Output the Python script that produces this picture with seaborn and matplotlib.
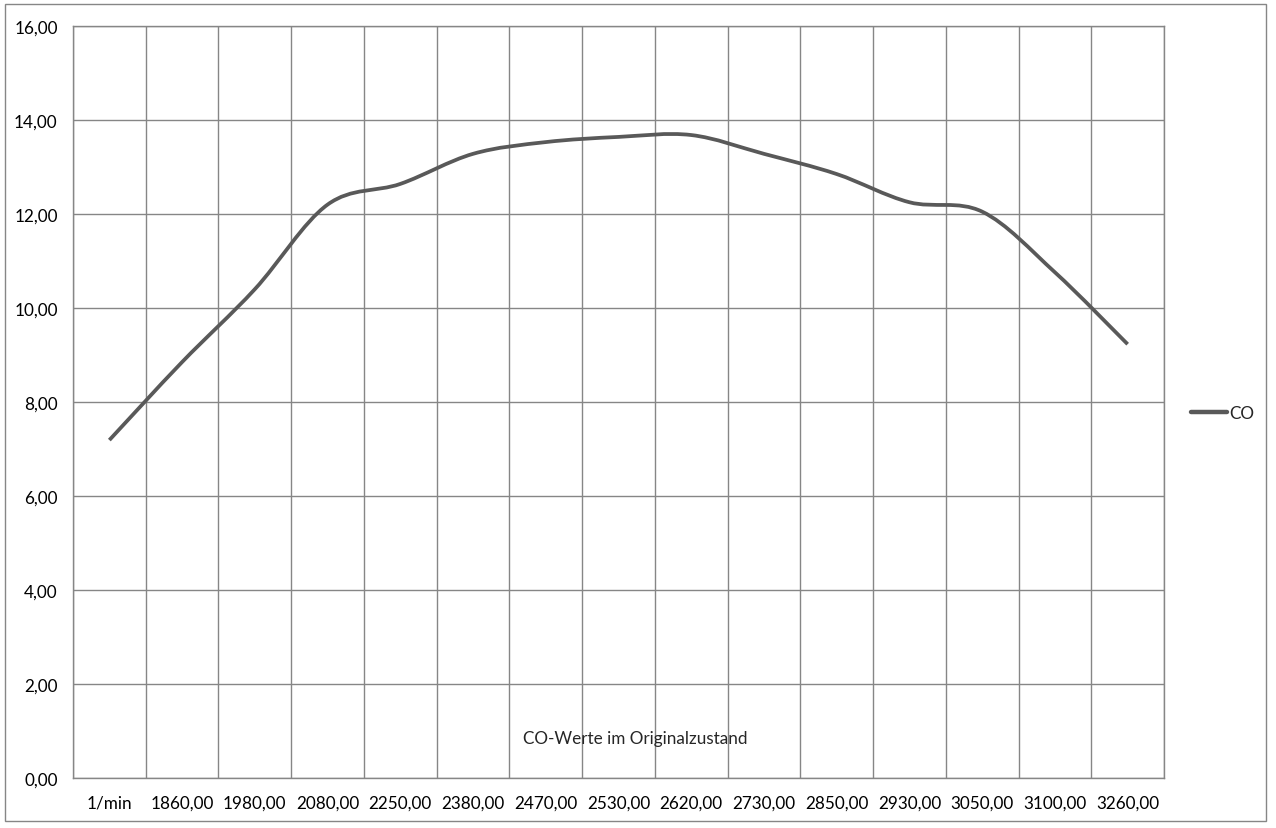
import matplotlib
matplotlib.use("Agg")
import matplotlib.pyplot as plt
from matplotlib.path import Path
from matplotlib.patches import PathPatch, Rectangle
from matplotlib.lines import Line2D
from matplotlib.ticker import FixedLocator, FuncFormatter
import numpy as np
import pandas as pd
import seaborn as sns

# CO values
categories = ["1/min", "1860,00", "1980,00", "2080,00", "2250,00", "2380,00",
              "2470,00", "2530,00", "2620,00", "2730,00", "2850,00", "2930,00",
              "3050,00", "3100,00", "3260,00"]
co_values = [7.19, 8.85, 10.40, 12.20, 12.64, 13.28, 13.53, 13.64,
             13.68, 13.28, 12.85, 12.25, 12.05, 10.76, 9.23]
y_ticks = [0, 2, 4, 6, 8, 10, 12, 14, 16]
title = "CO-Werte im Originalzustand"
series_name = "CO"

sns.set_style("white")
plt.rcParams["font.family"] = ["Lato", "DejaVu Sans"]

grid_col = "#868686"
line_col = "#595959"
fs = 12.3

W, H = 1276, 829
fig = plt.figure(figsize=(W / 100, H / 100), dpi=100)
ax = fig.add_axes([73 / W, 1 - 779 / H, (1164 - 73) / W, (779 - 27) / H])

df = pd.DataFrame({"pos": np.arange(len(categories)), "co": co_values})
sns.lineplot(data=df, x="pos", y="co", ax=ax, linewidth=0, legend=False)

# smoothed line like Excel (Catmull-Rom as cubic Bezier segments)
pts = df[["pos", "co"]].to_numpy(dtype=float)
ext = np.vstack([pts[0], pts, pts[-1]])
verts = [tuple(pts[0])]
codes = [Path.MOVETO]
for i in range(1, len(ext) - 2):
    p0, p1, p2, p3 = ext[i - 1], ext[i], ext[i + 1], ext[i + 2]
    c1 = p1 + (p2 - p0) / 6
    c2 = p2 - (p3 - p1) / 6
    verts += [tuple(c1), tuple(c2), tuple(p2)]
    codes += [Path.CURVE4] * 3
ax.add_patch(PathPatch(Path(verts, codes), fill=False, edgecolor=line_col,
                       linewidth=2.7, capstyle="butt", zorder=3))

ax.set_xlim(-0.5, len(categories) - 0.5)
ax.set_ylim(0, 16)
ax.set_xlabel("")
ax.set_ylabel("")

ax.xaxis.set_major_locator(FixedLocator(range(len(categories))))
ax.set_xticklabels(categories)
ax.xaxis.set_minor_locator(FixedLocator(np.arange(-0.5, len(categories), 1.0)))
ax.yaxis.set_major_locator(FixedLocator(y_ticks))
ax.yaxis.set_major_formatter(FuncFormatter(lambda v, p: f"{v:.2f}".replace(".", ",")))

ax.tick_params(axis="x", which="major", length=0, pad=12, labelsize=fs, colors="black")
ax.tick_params(axis="x", which="minor", length=5, width=1, color=grid_col, direction="out")
ax.tick_params(axis="y", which="major", length=5, width=1, color=grid_col,
               direction="out", pad=6, labelsize=fs, labelcolor="black")

ax.grid(True, axis="y", which="major", color=grid_col, linewidth=1)
ax.grid(True, axis="x", which="minor", color=grid_col, linewidth=1)
ax.grid(False, axis="x", which="major")
ax.set_axisbelow(True)
for s in ["left", "bottom", "top", "right"]:
    ax.spines[s].set_color(grid_col)
    ax.spines[s].set_linewidth(1)

fig.text(635 / W, 1 - 739 / H, title, ha="center", va="center", fontsize=fs)

handle = Line2D([], [], color=line_col, linewidth=3.2)
fig.legend([handle], [series_name], loc="center left",
           bbox_to_anchor=(1176 / W, 1 - 414 / H), frameon=False,
           handlelength=2.1, handletextpad=0.1, fontsize=fs)

fig.add_artist(Rectangle((5 / W, 1 - 822 / H), (1266 - 5) / W, (822 - 5) / H,
                         transform=fig.transFigure, fill=False,
                         edgecolor=grid_col, linewidth=1))

fig.savefig("out.png", dpi=100)
